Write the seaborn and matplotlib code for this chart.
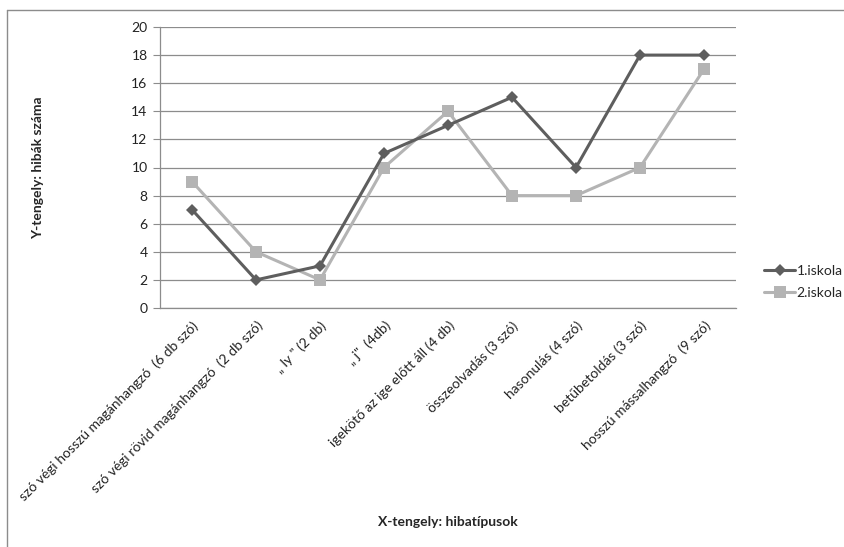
import matplotlib
matplotlib.use("Agg")
import matplotlib.pyplot as plt
from matplotlib.lines import Line2D
import seaborn as sns
import pandas as pd

categories = [
    "szó végi hosszú magánhangzó  (6 db szó)",
    "szó végi rövid magánhangzó  (2 db szó)",
    "„ ly \" (2 db)",
    "„ j\"  (4db)",
    "igekötő az ige előtt áll (4 db)",
    "összeolvadás (3 szó)",
    "hasonulás (4 szó)",
    "betűbetoldás (3 szó)",
    "hosszú mássalhangzó  (9 szó)",
]
iskola1 = [7, 2, 3, 11, 13, 15, 10, 18, 18]
iskola2 = [9, 4, 2, 10, 14, 8, 8, 10, 17]
series_names = ["1.iskola", "2.iskola"]
y_ticks = [0, 2, 4, 6, 8, 10, 12, 14, 16, 18, 20]

df = pd.DataFrame({
    "pos": list(range(len(categories))) * 2,
    "hibák": iskola1 + iskola2,
    "iskola": [series_names[0]] * len(iskola1) + [series_names[1]] * len(iskola2),
})

sns.set_theme(style="white")
plt.rcParams["font.family"] = ["Lato", "DejaVu Sans"]

fig = plt.figure(figsize=(8.45, 5.47), dpi=100)
ax = fig.add_axes([160 / 845, 1 - 308 / 547, 576 / 845, 281 / 547])

colors = {"1.iskola": "#5e5e5e", "2.iskola": "#b4b4b4"}
markers = {"1.iskola": "D", "2.iskola": "s"}
sizes = {"1.iskola": 6, "2.iskola": 8}

for name in series_names:
    sub = df[df["iskola"] == name]
    sns.lineplot(data=sub, x="pos", y="hibák", ax=ax, color=colors[name],
                 marker=markers[name], markersize=sizes[name], linewidth=2.2,
                 markeredgewidth=0, legend=False, zorder=3 if name == "1.iskola" else 2)

ax.set_xlim(-0.5, len(categories) - 0.5)
ax.set_ylim(0, 20)
ax.set_yticks(y_ticks)
ax.set_yticklabels([str(v) for v in y_ticks], fontsize=10, color="#222222")
ax.set_xticks(range(len(categories)))
ax.set_xticklabels(categories, rotation=45, ha="right", rotation_mode="anchor",
                   fontsize=10, color="#222222")
ax.tick_params(axis="x", length=0, pad=8)
ax.tick_params(axis="y", length=5, width=0.8, color="#8c8c8c", direction="out", left=True, pad=4)
ax.yaxis.grid(True, color="#8c8c8c", linewidth=0.9)
ax.xaxis.grid(False)
for side in ["top", "right"]:
    ax.spines[side].set_visible(False)
for side in ["left", "bottom"]:
    ax.spines[side].set_color("#8c8c8c")
    ax.spines[side].set_linewidth(0.9)
ax.set_xlabel("")
ax.set_ylabel("")

fig.text(38 / 845, 1 - 168 / 547, "Y-tengely: hibák száma", rotation=90,
         ha="center", va="center", fontsize=10, fontweight="bold")
fig.text(448 / 845, 1 - 522 / 547, "X-tengely: hibatípusok",
         ha="center", va="center", fontsize=10, fontweight="bold")

handles = [Line2D([], [], color=colors[n], marker=markers[n], markersize=sizes[n],
                  markeredgewidth=0, linewidth=2.2) for n in series_names]
fig.legend(handles, series_names, loc="center left",
           bbox_to_anchor=(752 / 845, 1 - 282 / 547), frameon=False, fontsize=10,
           handlelength=2.2, handletextpad=0.1, labelspacing=0.7)

# chart frame
fig.add_artist(Line2D([7 / 845, 7 / 845], [0, 1 - 10 / 547], transform=fig.transFigure,
                      color="#8c8c8c", linewidth=1))
fig.add_artist(Line2D([7 / 845, 1], [1 - 10 / 547, 1 - 10 / 547], transform=fig.transFigure,
                      color="#8c8c8c", linewidth=1))

fig.savefig("out.png", dpi=100)
